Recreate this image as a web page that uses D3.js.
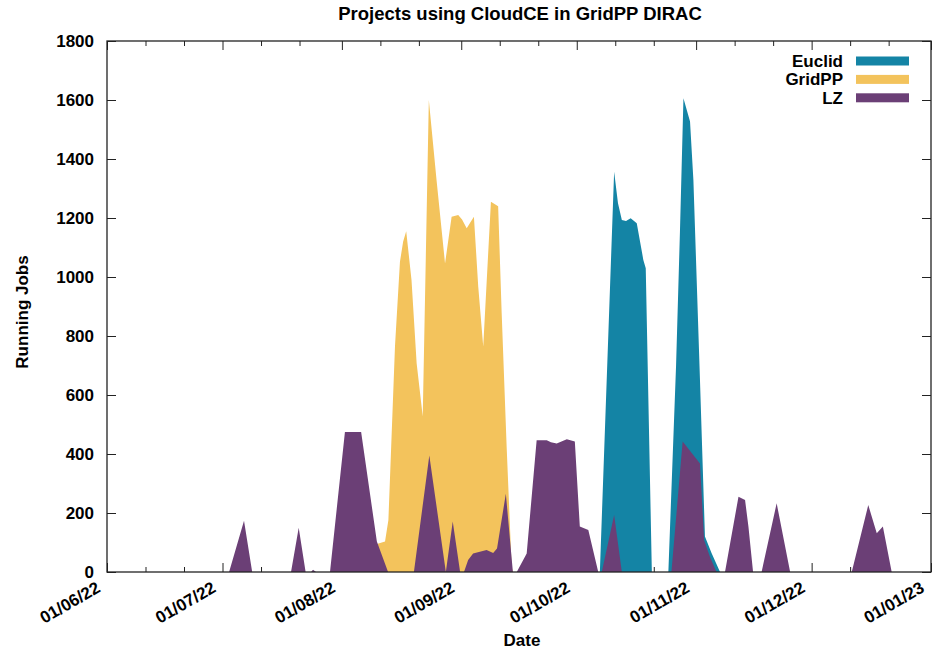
<!DOCTYPE html>
<html><head><meta charset="utf-8">
<script src="https://cdn.jsdelivr.net/npm/d3@7"></script>
<style>
body{margin:0;background:#fff}
text{font-family:"Liberation Sans",Arial,sans-serif;font-weight:bold;fill:#000}
</style>
</head><body>
<svg id="chart" width="947" height="655"></svg>
<script>
// ---- data ----
const seriesNames = ["Euclid", "GridPP", "LZ"];
const xTickLabels = ["01/06/22","01/07/22","01/08/22","01/09/22","01/10/22","01/11/22","01/12/22","01/01/23"];
const yTickValues = [0,200,400,600,800,1000,1200,1400,1600,1800];

const euclid = [
  ["2022-06-01 00",0],["2022-10-07 00",0],
  ["2022-10-10 17",1357],["2022-10-11 17",1250],["2022-10-12 17",1193],["2022-10-13 19",1190],
  ["2022-10-15 00",1199],["2022-10-16 14",1182],["2022-10-18 07",1058],["2022-10-18 22",1030],
  ["2022-10-20 12",0],["2022-10-24 19",0],["2022-10-26 19",700],["2022-10-27 19",1150],
  ["2022-10-28 17",1606],["2022-10-30 10",1527],["2022-10-31 07",1329],["2022-11-02 00",651],
  ["2022-11-03 07",120],["2022-11-05 00",64],["2022-11-07 05",0],["2023-01-01 00",0]
];
const gridpp = [
  ["2022-06-01 00",0],["2022-08-07 07",0],["2022-08-10 02",95],["2022-08-12 05",103],
  ["2022-08-13 02",176],["2022-08-14 19",764],["2022-08-16 02",1052],["2022-08-16 22",1120],
  ["2022-08-17 17",1155],["2022-08-19 02",990],["2022-08-20 10",708],["2022-08-22 00",527],
  ["2022-08-23 14",1600],["2022-08-25 14",1329],["2022-08-27 19",1046],["2022-08-29 12",1204],
  ["2022-08-31 05",1210],["2022-09-01 05",1195],["2022-09-02 10",1165],["2022-09-04 07",1204],
  ["2022-09-05 10",967],["2022-09-06 17",764],["2022-09-08 17",1255],["2022-09-10 14",1240],
  ["2022-09-11 12",878],["2022-09-12 19",425],["2022-09-14 02",18],["2022-09-14 10",0],
  ["2023-01-01 00",0]
];
const lz = [
  ["2022-06-01 00",0],["2022-07-02 17",0],["2022-07-06 14",174],["2022-07-08 17",0],
  ["2022-07-18 19",0],["2022-07-20 19",150],["2022-07-22 14",0],["2022-07-24 00",0],
  ["2022-07-24 12",8],["2022-07-25 07",0],["2022-07-28 22",0],["2022-08-01 19",475],
  ["2022-08-06 00",475],["2022-08-10 02",103],["2022-08-13 00",0],["2022-08-19 17",0],
  ["2022-08-23 17",395],["2022-08-28 00",0],["2022-08-29 19",171],["2022-08-31 17",0],
  ["2022-09-01 17",0],["2022-09-02 19",41],["2022-09-04 02",63],["2022-09-07 14",75],
  ["2022-09-09 07",64],["2022-09-10 07",80],["2022-09-12 14",265],["2022-09-14 10",0],
  ["2022-09-15 10",0],["2022-09-18 00",63],["2022-09-20 14",447],["2022-09-23 05",447],
  ["2022-09-24 07",440],["2022-09-25 19",436],["2022-09-28 10",450],["2022-09-30 12",442],
  ["2022-10-01 19",154],["2022-10-04 00",142],["2022-10-06 14",0],["2022-10-07 12",0],
  ["2022-10-10 17",193],["2022-10-12 17",0],["2022-10-25 14",0],["2022-10-28 12",442],
  ["2022-11-02 00",368],["2022-11-03 02",108],["2022-11-04 14",52],["2022-11-06 07",0],
  ["2022-11-08 12",0],["2022-11-12 00",255],["2022-11-13 17",244],["2022-11-14 14",154],
  ["2022-11-15 19",0],["2022-11-18 00",0],["2022-11-21 22",233],["2022-11-25 10",0],
  ["2022-12-11 10",0],["2022-12-15 17",227],["2022-12-17 22",131],["2022-12-19 12",154],
  ["2022-12-21 19",0],["2023-01-01 00",0]
];
const seriesValues = [euclid, gridpp, lz];
const seriesColors = ["#1484a5", "#f3c35c", "#6b3f76"];

// ---- layout ----
const m = {left:107, right:931, top:41, bottom:572};
const svg = d3.select("#chart");
const parse = d3.timeParse("%Y-%m-%d %H");

const x = d3.scaleTime()
  .domain([new Date(2022,5,1), new Date(2023,0,1)])
  .range([m.left, m.right]);
const y = d3.scaleLinear().domain([0,1800]).range([m.bottom, m.top]);

const monthTicks = x.ticks(d3.timeMonth.every(1));
const minorTicks = x.ticks(d3.timeDay.every(10)).filter(d => d.getDate() !== 1 && d.getDate() !== 31);

// ticks (behind the fills)
const gAx = svg.append("g");
const mk = (axis, ty) => gAx.append("g").attr("transform", ty).call(axis)
  .call(g => g.select(".domain").remove())
  .call(g => g.selectAll(".tick line").attr("stroke","#222").attr("stroke-width",1));

mk(d3.axisBottom(x).tickValues(monthTicks).tickSizeInner(-9).tickSizeOuter(0).tickFormat(""), `translate(0,${m.bottom})`);
mk(d3.axisBottom(x).tickValues(minorTicks).tickSizeInner(-5).tickSizeOuter(0).tickFormat(""), `translate(0,${m.bottom})`);
mk(d3.axisTop(x).tickValues(monthTicks).tickSizeInner(-9).tickSizeOuter(0).tickFormat(""), `translate(0,${m.top})`);
mk(d3.axisTop(x).tickValues(minorTicks).tickSizeInner(-5).tickSizeOuter(0).tickFormat(""), `translate(0,${m.top})`);
mk(d3.axisLeft(y).tickValues(yTickValues).tickSizeInner(-9).tickSizeOuter(0).tickFormat(""), `translate(${m.left},0)`);
mk(d3.axisRight(y).tickValues(yTickValues).tickSizeInner(-9).tickSizeOuter(0).tickFormat(""), `translate(${m.right},0)`);

// y tick labels
const yLab = svg.append("g").attr("transform", `translate(${m.left},0)`)
  .call(d3.axisLeft(y).tickValues(yTickValues).tickSize(0).tickPadding(13).tickFormat(d3.format("d")));
yLab.select(".domain").remove();
yLab.selectAll("text").attr("font-size", 17).attr("font-family", null);

// x tick labels (rotated)
const xLab = svg.append("g").attr("transform", `translate(0,${m.bottom})`)
  .call(d3.axisBottom(x).tickValues(monthTicks).tickSize(0).tickFormat((d,i) => xTickLabels[i]));
xLab.select(".domain").remove();
xLab.selectAll("text").attr("font-size", 17).attr("font-family", null)
  .attr("text-anchor","end").attr("y",0).attr("dy",null)
  .attr("transform","translate(-6,19) rotate(-30)");

// areas
const area = d3.area().x(d => x(parse(d[0]))).y0(y(0)).y1(d => y(d[1]));
const gData = svg.append("g");
seriesValues.forEach((s, i) => {
  gData.append("path").datum(s).attr("d", area).attr("fill", seriesColors[i]);
});

// frame
svg.append("rect").attr("x", m.left).attr("y", m.top)
  .attr("width", m.right - m.left).attr("height", m.bottom - m.top)
  .attr("fill","none").attr("stroke","#222").attr("stroke-width",1.3);

// title & axis titles
svg.append("text").attr("x", 520).attr("y", 20).attr("text-anchor","middle")
  .attr("font-size", 18.5).text("Projects using CloudCE in GridPP DIRAC");
svg.append("text").attr("transform", `translate(28,312) rotate(-90)`)
  .attr("text-anchor","middle").attr("font-size", 17).text("Running Jobs");
svg.append("text").attr("x", 522).attr("y", 646).attr("text-anchor","middle")
  .attr("font-size", 17).text("Date");

// legend
const leg = svg.append("g");
seriesNames.forEach((n, i) => {
  const cy = 61 + i * 18.4;
  leg.append("text").attr("x", 843).attr("y", cy + 6).attr("text-anchor","end")
    .attr("font-size", 17).text(n);
  leg.append("rect").attr("x", 856).attr("y", cy - 4.5).attr("width", 53).attr("height", 9)
    .attr("fill", seriesColors[i]);
});
</script>
</body></html>
